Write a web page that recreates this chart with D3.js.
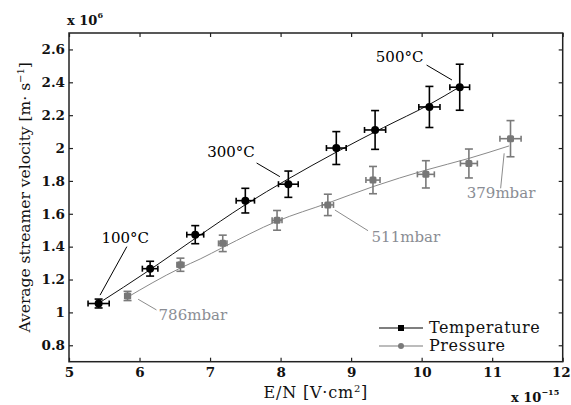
<!DOCTYPE html>
<html>
<head>
<meta charset="utf-8">
<script src="https://cdn.jsdelivr.net/npm/d3@7"></script>
<style>
  body { margin: 0; background: #fff; }
  svg { display: block; }
</style>
</head>
<body>
<svg id="chart" width="571" height="405"></svg>
<script>
// measured points (E/N in 1e-15 V cm^2, velocity in 1e6 m/s)
const tempX = [5.42, 6.15, 6.79, 7.5, 8.11, 8.79, 9.34, 10.11, 10.54];
const tempY = [1.054, 1.266, 1.473, 1.68, 1.78, 2.0, 2.11, 2.25, 2.37];
const tempXErr = [0.15, 0.11, 0.12, 0.13, 0.14, 0.14, 0.15, 0.15, 0.14];
const tempYErr = [0.027, 0.045, 0.055, 0.075, 0.08, 0.1, 0.118, 0.125, 0.14];

const presX = [5.83, 6.58, 7.18, 7.95, 8.67, 9.31, 10.06, 10.67, 11.26];
const presY = [1.10, 1.29, 1.42, 1.56, 1.654, 1.805, 1.84, 1.906, 2.057];
const presXErr = [0.04, 0.05, 0.06, 0.07, 0.08, 0.1, 0.12, 0.12, 0.15];
const presYErr = [0.028, 0.04, 0.05, 0.06, 0.065, 0.083, 0.083, 0.088, 0.11];

// fitted curves
const tempFitX = [5.4, 6.15, 6.79, 7.5, 8.1, 8.79, 9.46, 10.11, 10.55];
const tempFitY = [1.05, 1.26, 1.45, 1.655, 1.81, 1.975, 2.125, 2.265, 2.375];
const presFitX = [5.8, 6.58, 6.86, 7.18, 7.95, 8.67, 9.31, 10.06, 10.67, 11.24];
const presFitY = [1.085, 1.27, 1.325, 1.395, 1.555, 1.665, 1.765, 1.866, 1.937, 2.013];

const xTicks = [5, 6, 7, 8, 9, 10, 11, 12];
const yTicks = [0.8, 1, 1.2, 1.4, 1.6, 1.8, 2, 2.2, 2.4, 2.6];

// annotations: [text, x, y, color]
const labels = [
  ["100°C", 5.46, 1.42, "#000"],
  ["300°C", 6.96, 1.947, "#000"],
  ["500°C", 9.35, 2.525, "#000"],
  ["786mbar", 6.27, 0.954, "#8a8d94"],
  ["511mbar", 9.29, 1.43, "#8a8d94"],
  ["379mbar", 10.64, 1.694, "#8a8d94"]
];
// leader lines: [x1, y1, x2, y2, color]
const leaders = [
  [5.82, 1.40, 5.44, 1.105, "#000"],
  [7.66, 1.909, 7.99, 1.826, "#000"],
  [10.07, 2.505, 10.43, 2.414, "#000"],
  [5.98, 1.08, 6.24, 1.015, "#8c8c8c"],
  [8.77, 1.623, 9.24, 1.497, "#8c8c8c"],
  [11.17, 1.968, 11.12, 1.755, "#8c8c8c"]
];

const serif = "'DejaVu Serif', 'Liberation Serif', serif";
const margin = { top: 33, right: 8.3, bottom: 43.3, left: 69 };
const width = 571, height = 405;

const svg = d3.select("#chart");

const x = d3.scaleLinear().domain([5, 12]).range([margin.left, width - margin.right]);
const y = d3.scaleLinear().domain([0.7, 2.7]).range([height - margin.bottom, margin.top]);

const temp = tempX.map((v, i) => ({ x: v, y: tempY[i], ex: tempXErr[i], ey: tempYErr[i] }));
const pres = presX.map((v, i) => ({ x: v, y: presY[i], ex: presXErr[i], ey: presYErr[i] }));

// frame + inward ticks on all sides
const tickLen = 4;
const axisStyle = (g) => {
  g.select(".domain").remove();
  g.selectAll("line").attr("stroke", "#222").attr("stroke-width", 1.2);
  g.selectAll("text").attr("font-family", serif).attr("font-size", 13.5).attr("font-weight", "bold").attr("fill", "#111");
};

const xAxisG = svg.append("g")
  .attr("transform", `translate(0,${height - margin.bottom})`)
  .call(d3.axisBottom(x).tickValues(xTicks).tickFormat(d3.format("d")).tickSizeInner(-tickLen).tickPadding(6))
  .call(axisStyle);

// keep the last label ("12") inside the page
xAxisG.selectAll(".tick text")
  .filter(d => d === 12)
  .attr("text-anchor", "end")
  .attr("x", 7.5);

svg.append("g")
  .attr("transform", `translate(0,${margin.top})`)
  .call(d3.axisTop(x).tickValues(xTicks).tickFormat("").tickSizeInner(-tickLen))
  .call(axisStyle);

svg.append("g")
  .attr("transform", `translate(${margin.left},0)`)
  .call(d3.axisLeft(y).tickValues(yTicks).tickFormat(d => d3.format("")(+d.toFixed(1))).tickSizeInner(-tickLen).tickPadding(4))
  .call(axisStyle);

svg.append("g")
  .attr("transform", `translate(${width - margin.right},0)`)
  .call(d3.axisRight(y).tickValues(yTicks).tickFormat("").tickSizeInner(-tickLen))
  .call(axisStyle);

svg.append("rect")
  .attr("x", margin.left)
  .attr("y", margin.top)
  .attr("width", width - margin.left - margin.right)
  .attr("height", height - margin.top - margin.bottom)
  .attr("fill", "none")
  .attr("stroke", "#222")
  .attr("stroke-width", 1.5);

// fit lines
const line = d3.line().x(d => x(d[0])).y(d => y(d[1])).curve(d3.curveMonotoneX);

svg.append("path")
  .attr("d", line(tempFitX.map((v, i) => [v, tempFitY[i]])))
  .attr("fill", "none")
  .attr("stroke", "#111")
  .attr("stroke-width", 1);

svg.append("path")
  .attr("d", line(presFitX.map((v, i) => [v, presFitY[i]])))
  .attr("fill", "none")
  .attr("stroke", "#8a8a8a")
  .attr("stroke-width", 1);

// error bars
const drawErrors = (data, color) => {
  const g = svg.append("g").attr("stroke", color).attr("stroke-width", 1.6).attr("fill", "none");
  data.forEach(d => {
    const cx = x(d.x), cy = y(d.y);
    const y0 = y(d.y - d.ey), y1 = y(d.y + d.ey);
    const x0 = x(d.x - d.ex), x1 = x(d.x + d.ex);
    g.append("line").attr("x1", cx).attr("x2", cx).attr("y1", y0).attr("y2", y1);
    g.append("line").attr("x1", cx - 4).attr("x2", cx + 4).attr("y1", y0).attr("y2", y0);
    g.append("line").attr("x1", cx - 4).attr("x2", cx + 4).attr("y1", y1).attr("y2", y1);
    g.append("line").attr("x1", x0).attr("x2", x1).attr("y1", cy).attr("y2", cy);
    g.append("line").attr("x1", x0).attr("x2", x0).attr("y1", cy - 3).attr("y2", cy + 3);
    g.append("line").attr("x1", x1).attr("x2", x1).attr("y1", cy - 3).attr("y2", cy + 3);
  });
};

drawErrors(pres, "#7a7a7a");
drawErrors(temp, "#000");

svg.selectAll("rect.pres")
  .data(pres)
  .enter()
  .append("rect")
  .attr("class", "pres")
  .attr("x", d => x(d.x) - 3.5)
  .attr("y", d => y(d.y) - 3.5)
  .attr("width", 7)
  .attr("height", 7)
  .attr("rx", 1.5)
  .attr("fill", "#777");

svg.selectAll("circle.temp")
  .data(temp)
  .enter()
  .append("circle")
  .attr("class", "temp")
  .attr("cx", d => x(d.x))
  .attr("cy", d => y(d.y))
  .attr("r", 4)
  .attr("fill", "#000");

// annotations
svg.selectAll("line.leader")
  .data(leaders)
  .enter()
  .append("line")
  .attr("class", "leader")
  .attr("x1", d => x(d[0]))
  .attr("y1", d => y(d[1]))
  .attr("x2", d => x(d[2]))
  .attr("y2", d => y(d[3]))
  .attr("stroke", d => d[4])
  .attr("stroke-width", 1);

svg.selectAll("text.note")
  .data(labels)
  .enter()
  .append("text")
  .attr("class", "note")
  .attr("x", d => x(d[1]))
  .attr("y", d => y(d[2]))
  .attr("font-family", serif)
  .attr("font-size", 15)
  .attr("fill", d => d[3])
  .text(d => d[0]);

// legend
const legendItems = [
  { name: "Temperature", color: "#000", shape: "square" },
  { name: "Pressure", color: "#7a7a7a", shape: "circle" }
];
const legend = svg.append("g").attr("transform", "translate(379,328)");
legendItems.forEach((item, i) => {
  const row = legend.append("g").attr("transform", `translate(0,${i * 18})`);
  row.append("line").attr("x1", 0).attr("x2", 44).attr("stroke", item.color).attr("stroke-width", 1.2);
  if (item.shape === "square") {
    row.append("rect").attr("x", 19).attr("y", -3).attr("width", 6).attr("height", 6).attr("fill", item.color);
  } else {
    row.append("circle").attr("cx", 22).attr("r", 3).attr("fill", item.color);
  }
  row.append("text")
    .attr("x", 50)
    .attr("y", 5)
    .attr("font-family", serif)
    .attr("font-size", 16)
    .attr("letter-spacing", 0.6)
    .attr("fill", "#111")
    .text(item.name);
});

// axis titles
svg.append("text")
  .attr("x", (margin.left + width - margin.right) / 2)
  .attr("y", 398)
  .attr("text-anchor", "middle")
  .attr("font-family", serif)
  .attr("font-size", 16)
  .attr("letter-spacing", 0.8)
  .attr("fill", "#111")
  .html("E/N [V·cm<tspan dy='-6' font-size='10'>2</tspan><tspan dy='6'>]</tspan>");

svg.append("text")
  .attr("transform", `translate(30,${(margin.top + height - margin.bottom) / 2}) rotate(-90)`)
  .attr("text-anchor", "middle")
  .attr("font-family", serif)
  .attr("font-size", 15.5)
  .attr("fill", "#111")
  .html("Average streamer velocity [m· s<tspan dy='-6' font-size='10'>−1</tspan><tspan dy='6'>]</tspan>");

// exponent labels
svg.append("text")
  .attr("x", 67)
  .attr("y", 25)
  .attr("font-family", serif)
  .attr("font-size", 13)
  .attr("font-weight", "bold")
  .attr("fill", "#111")
  .html("x 10<tspan dy='-7' font-size='8'>6</tspan>");

svg.append("text")
  .attr("x", 511)
  .attr("y", 402)
  .attr("font-family", serif)
  .attr("font-size", 13)
  .attr("font-weight", "bold")
  .attr("fill", "#111")
  .html("x 10<tspan dy='-7' font-size='8'>−15</tspan>");
</script>
</body>
</html>
